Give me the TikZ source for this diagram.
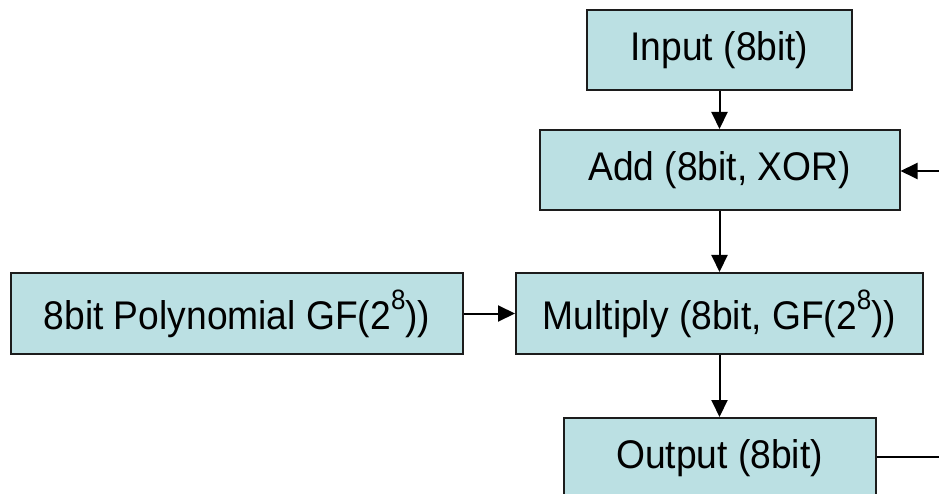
\documentclass[tikz,border=0pt]{standalone}
\usepackage{fontspec}
\setmainfont{Liberation Sans}
\usetikzlibrary{arrows.meta}
\definecolor{boxfill}{RGB}{187,224,227}
\definecolor{boxline}{RGB}{28,28,28}
% slightly condensed lettering
\newcommand{\lbl}[1]{\scalebox{0.93}[1]{#1}}
\newcommand{\pw}[1]{\raisebox{20pt}{\fontsize{28}{28}\selectfont #1}}
\begin{document}
\begin{tikzpicture}[x=1pt,y=-1pt,
  blk/.style={draw=boxline, line width=2pt, fill=boxfill, inner sep=0pt,
              font=\fontsize{40}{48}\selectfont},
  link/.style={line width=2pt, draw=black, -{Triangle[length=17pt,width=16pt]}},
  plain/.style={line width=2pt, draw=black}]
\useasboundingbox (0,0) rectangle (939,494);
\clip (0,0) rectangle (939,494);

% processing blocks
\node[blk, minimum width=265pt, minimum height=80pt] (inp) at (719.5,50) {\lbl{Input (8bit)}};
\node[blk, minimum width=360pt, minimum height=80pt] (add) at (719.5,170) {\lbl{Add (8bit, XOR)}};
\node[blk, minimum width=452pt, minimum height=81pt] (poly) at (237,313.5) {\lbl{8bit Polynomial GF(2\pw{8}))}};
\node[blk, minimum width=407pt, minimum height=81pt] (mul) at (719.5,313.5) {\lbl{Multiply (8bit, GF(2\pw{8}))}};
\node[blk, minimum width=312pt, minimum height=81pt] (out) at (719.5,458.5) {\lbl{Output (8bit)}};

% feedback ends leaving the frame
\coordinate (fbin) at (939,171);
\coordinate (fbout) at (939,457);

% data flow
\draw[link] (inp.south) -- (add.north);
\draw[link] (add.south) -- (mul.north);
\draw[link] (mul.south) -- (out.north);
\draw[link] (poly.east) -- (mul.west);
\draw[link] (fbin) -- (fbin -| add.east);
\draw[plain] (fbout -| out.east) -- (fbout);
\end{tikzpicture}
\end{document}
